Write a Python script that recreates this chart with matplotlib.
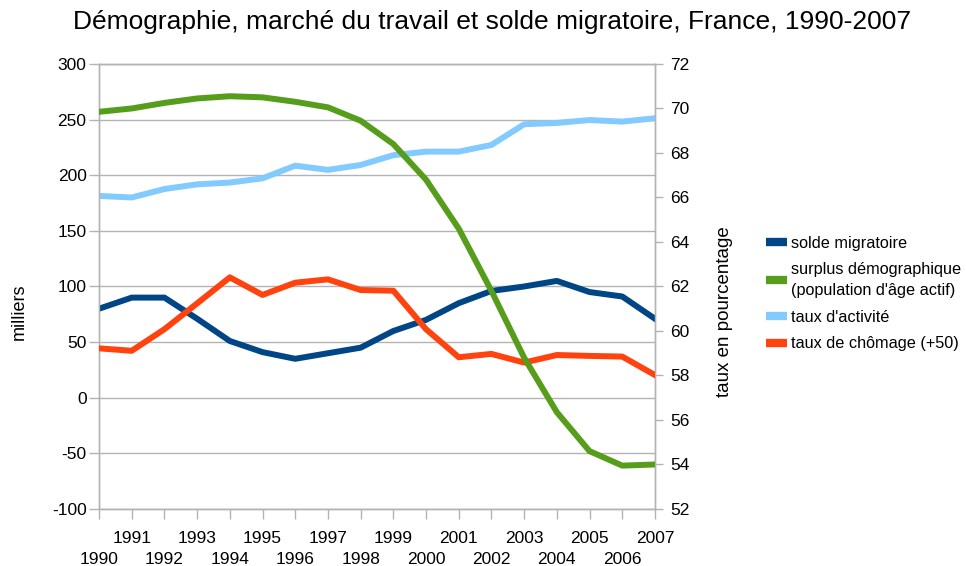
import matplotlib
matplotlib.use("Agg")
import matplotlib.pyplot as plt
from matplotlib.lines import Line2D

plt.rcParams['font.family'] = ['Liberation Sans', 'DejaVu Sans']
plt.rcParams['axes.unicode_minus'] = False

years = list(range(1990, 2008))

# milliers (axe de gauche)
solde_migratoire = [80, 90, 90, 71, 51, 41, 35, 40, 45, 60, 70, 85, 96, 100, 105, 95, 91, 71]
surplus_demo = [257, 260, 265, 269, 271, 270, 266, 261, 249, 228, 196, 152, 96, 36, -13, -48, -61, -60]

# pourcentages (axe de droite)
taux_activite = [66.07, 66.0, 66.38, 66.59, 66.67, 66.86, 67.43, 67.24, 67.46, 67.9,
                 68.06, 68.06, 68.36, 69.29, 69.35, 69.48, 69.41, 69.56]
taux_chomage_plus50 = [59.22, 59.11, 60.08, 61.24, 62.41, 61.62, 62.17, 62.32, 61.84, 61.81,
                       60.08, 58.82, 58.97, 58.58, 58.92, 58.88, 58.85, 58.02]

left_ticks = [-100, -50, 0, 50, 100, 150, 200, 250, 300]
right_ticks = [52, 54, 56, 58, 60, 62, 64, 66, 68, 70, 72]

c_blue = '#004586'
c_green = '#579d1c'
c_lblue = '#83caff'
c_red = '#ff420e'
c_grid = '#b3b3b3'

fig = plt.figure(figsize=(9.66, 5.66), dpi=100)
ax1 = fig.add_axes([0.1025, 0.1007, 0.5755, 0.7863])
ax2 = ax1.twinx()

ax1.set_xlim(1990, 2007)
ax1.set_ylim(-100, 300)
ax2.set_ylim(52, 72)

lw = 4.3
# all series drawn on ax2 so their stacking order can be controlled;
# thousand-valued series use ax1's data transform
ax2.plot(years, solde_migratoire, color=c_blue, lw=lw, transform=ax1.transData, zorder=1)
ax2.plot(years, taux_activite, color=c_lblue, lw=lw, zorder=2)
ax2.plot(years, taux_chomage_plus50, color=c_red, lw=lw, zorder=3)
ax2.plot(years, surplus_demo, color=c_green, lw=lw, transform=ax1.transData, zorder=4)
ax2.set_xlim(1990, 2007)

ax1.set_yticks(left_ticks)
ax2.set_yticks(right_ticks)
ax1.yaxis.grid(True, color=c_grid, lw=1)
ax1.set_axisbelow(True)

# odd years on the first row, even years on the second row
odd_years = [y for y in years if y % 2]
even_years = [y for y in years if not y % 2]
ax1.set_xticks(odd_years)
ax1.set_xticklabels([str(y) for y in odd_years])
ax1.set_xticks(even_years, minor=True)
ax1.set_xticklabels([str(y) for y in even_years], minor=True)

for ax in (ax1, ax2):
    for s in ax.spines.values():
        s.set_color(c_grid)
        s.set_linewidth(1)
    ax.tick_params(which='both', colors=c_grid, labelcolor='black', labelsize=12.5,
                   width=1, direction='out')
ax1.tick_params(axis='x', which='major', length=7, pad=8.5)
ax1.tick_params(axis='x', which='minor', length=7, pad=24)
ax1.tick_params(axis='y', length=7, pad=2)
ax2.tick_params(axis='y', length=6, pad=5)

ax1.set_ylabel('milliers', fontsize=13)
ax2.set_ylabel('taux en pourcentage', fontsize=13.5)
ax1.yaxis.set_label_coords(-0.128, 0.443)
ax2.yaxis.set_label_coords(1.109, 0.443)

fig.suptitle('Démographie, marché du travail et solde migratoire, France, 1990-2007',
             fontsize=19, x=0.509, y=0.982)

handles = [Line2D([], [], color=c, lw=6, solid_capstyle='butt') for c in (c_blue, c_green, c_lblue, c_red)]
labels = ['solde migratoire', "surplus démographique\n(population d'âge actif)",
          "taux d'activité", 'taux de chômage (+50)']
leg = fig.legend(handles, labels, loc='upper left', bbox_to_anchor=(0.786, 0.595),
                 frameon=False, fontsize=11.7, handlelength=1.3, handletextpad=0.25,
                 labelspacing=0.72, borderaxespad=0)
for t in leg.get_texts():
    t.set_linespacing(1.45)

fig.savefig('out.png', dpi=100)
